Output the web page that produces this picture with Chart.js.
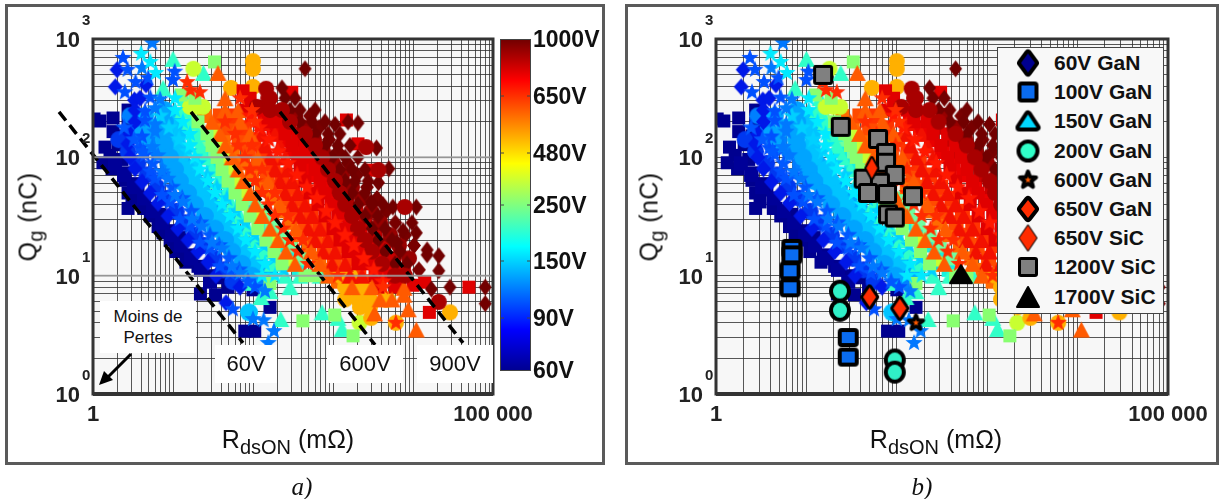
<!DOCTYPE html>
<html>
<head>
<meta charset="utf-8">
<title>Qg vs RdsON</title>
<script src="https://cdn.jsdelivr.net/npm/chart.js@4"></script>
<style>
  html, body { margin: 0; padding: 0; background: #fff; width: 1219px; height: 499px; overflow: hidden; }
  body { position: relative; font-family: "Liberation Sans", Arial, sans-serif; color: #111; }
  .frame { position: absolute; box-sizing: border-box; border: 3px solid #5a5a5a; }
  .holder { position: absolute; }
  .txt { position: absolute; white-space: nowrap; line-height: 1; }
  .xtitle { font-size: 25px; transform: translateX(-50%); }
  .xtitle sub, .ytitle sub { font-size: 20px; line-height: 0; }
  .ytitle { font-size: 25px; letter-spacing: 0.4px; transform: translate(-50%, -50%) rotate(-90deg); }
  .cap { font-family: "Liberation Serif", serif; font-style: italic; font-size: 25px; transform: translateX(-50%); }
  .cb { font-weight: bold; font-size: 23px; transform: translateY(-50%); }
  .box { position: absolute; background: #fff; text-align: center; font-size: 22px; display: flex; align-items: center; justify-content: center; }
  #legendB { position: absolute; left: 997px; top: 47px; width: 167px; height: 267px; box-sizing: border-box; background: #f8f8f8; border: 1px solid #444; z-index: 4; }
  #legendB canvas { position: absolute; transform: translate(-50%, -50%); }
  #legendB span { position: absolute; left: 56px; font-weight: bold; font-size: 21px; transform: translateY(-50%); white-space: nowrap; }
</style>
</head>
<body>
<div class="frame" style="left:5px;top:4px;width:600px;height:461px"></div>
<div class="frame" style="left:625px;top:4px;width:594px;height:461px"></div>
<div class="holder" style="left:6px;top:5px;width:598px;height:458px"><canvas id="chartA"></canvas></div>
<div class="holder" style="left:626px;top:5px;width:591px;height:458px"><canvas id="chartB"></canvas></div>

<div class="box" style="left:100px;top:301px;width:96px;height:52px;font-size:17px;line-height:21px">Moins de<br>Pertes</div>
<div class="box" style="left:215px;top:345px;width:62px;height:38px">60V</div>
<div class="box" style="left:327px;top:345px;width:76px;height:38px">600V</div>
<div class="box" style="left:417px;top:345px;width:76px;height:38px">900V</div>
<svg style="position:absolute;left:95px;top:350px" width="45" height="42">
  <line x1="36" y1="4" x2="10" y2="30" stroke="#000" stroke-width="3"/>
  <polygon points="4,35 9,21 18,30" fill="#000"/>
</svg>

<div class="txt xtitle" style="left:288px;top:427px">R<sub>dsON</sub> (mΩ)</div>
<div class="txt xtitle" style="left:936px;top:427px">R<sub>dsON</sub> (mΩ)</div>
<div class="txt ytitle" style="left:28px;top:217px">Q<sub>g</sub> (nC)</div>
<div class="txt ytitle" style="left:649px;top:217px">Q<sub>g</sub> (nC)</div>
<div class="txt cap" style="left:302px;top:474px">a)</div>
<div class="txt cap" style="left:922px;top:474px">b)</div>
<div id="cbLabels"></div>
<div id="legendB"></div>

<script>
// cloud of parts, [RdsON mOhm, Qg nC], one list per voltage colour and marker
const v40 = [[1.03,211],[1.22,203],[1.78,215],[2.74,251],[2.74,195],[1.78,165],[2.5,152],[1.41,122],[2.05,128],[1.63,104],[2.3,96],[1.33,90],[1.73,80],[2.5,74],[2.5,64],[3.35,60],[2.74,50],[3.65,53],[3.07,42],[4.6,37],[2.74,37],[4.3,37],[5.2,32],[6.9,33],[6.5,26],[9.2,24],[7.5,23],[9.2,20],[12.2,21],[10.9,16],[15.4,15],[14.5,13],[20.5,12],[29,10],[41,9.6],[48.7,8],[22,7],[34,6.9],[79,3.4],[105,3.4],[163,5.4],[100,7.6]];
const v45 = [[1.88,89],[2.44,71],[3.24,56],[4.33,45],[5.64,35],[7.33,28],[9.7,22],[12.5,18],[16.8,14],[22.3,11.2],[29,8.9]];
const v60 = [[2,550],[1.9,394],[3.3,305],[4.6,410],[46,5.9],[3.87,316],[3.35,251],[3.35,200],[2.9,158],[2.74,130],[2.9,100],[3.35,80],[4.1,62],[5.2,50],[6.5,41],[8.66,32],[11.5,25],[15.4,20],[20.5,16],[27.4,13],[34.5,10],[68.8,8]];
const v70 = [[2.1,141],[2.74,112],[3.64,89],[4.74,71],[6.3,56],[8.4,45],[11,35],[14.2,28],[18.9,22],[24.4,18],[32.6,14],[43,11.2],[56,8.9]];
const v80 = [[2.37,692],[2.7,550],[3.4,433],[2.5,355],[4.9,468],[56,5.2],[10,450],[10.5,530],[5.2,320],[4.47,245],[4.47,205],[4.1,150],[3.87,120],[4.47,105],[5.2,76],[5.96,66],[7.3,48],[9.2,42],[12.2,30],[16.3,26],[21.7,19],[29,17],[38.7,12],[51.6,10.5],[106,8]];
const v85 = [[2.45,178],[3.25,141],[4.22,112],[5.6,89],[7.3,71],[9.7,56],[13,45],[16.9,35],[22,28],[29,22],[37.6,18],[50,14],[67,11.2],[86.5,8.9]];
const v100 = [[5.5,927],[100,4.3],[136,4.2],[183,3.4],[155,2.7],[4.1,570],[6.9,310],[5.96,260],[5.96,190],[5.96,165],[5.5,122],[6.5,104],[7.3,76],[8.66,66],[10.6,48],[13.3,42],[17.3,30],[23,26],[30.7,19],[41,17],[54.7,12],[68.8,10.5],[141,7.4]];
const v110 = [[2.9,224],[3.76,178],[5,141],[6.49,112],[8.6,89],[11.2,71],[14.9,56],[19.9,45],[26,35],[33.7,28],[44.8,22],[57.8,18],[77,14],[103,11.2],[133,8.9]];
const v120 = [[7.9,251],[7.9,200],[4.1,155],[7.9,158],[4.47,126],[7.9,126],[9.2,100],[10.6,79],[12.2,63],[15.4,50],[18.8,40],[25,32],[33.5,25],[44.7,20],[54.7,16],[73,12.6],[97,10]];
const v125 = [[4.47,224],[5.8,178],[7.7,141],[10,112],[13.3,89],[17.3,71],[23,56],[30.7,45],[40,35],[52,28],[69,22],[89,18],[119,14],[158,11.2]];
const v130 = [[10.6,200],[11.5,158],[11.5,126],[12.2,100],[16.3,79],[18.8,63],[23,50],[27.4,40],[36.5,32],[48.7,25],[59.6,20],[79,16],[106,12.6],[89,4.9]];
const v140 = [[6.9,224],[8.9,178],[11.9,141],[15.4,112],[20.5,89],[26.6,71],[35.4,56],[47.3,45],[61.6,35],[80,28],[106,22],[137,18],[183,14],[243,11.2]];
const v150 = [[4,750],[5.2,640],[6.1,517],[10.6,316],[10.6,251],[13.3,200],[16.3,158],[16.3,126],[18.8,100],[21.7,79],[27.4,63],[33.5,50],[41,40],[51.6,32],[65,25],[81.6,20],[106,16],[141,12.6],[130,10],[188,10]];
const v170 = [[10.6,224],[13.7,178],[18.2,141],[23.7,112],[31.5,89],[41,71],[54.5,56],[72.8,45],[94.8,35],[123,28],[164,22],[211,18],[282,14],[374,11.2]];
const v200 = [[10,680],[24,517],[7.5,386],[222,4.3],[730,4.9],[1300,3.55],[1150,4.4],[14.1,316],[13.3,251],[16.3,200],[20.5,158],[21.7,126],[25,100],[30.7,79],[36.5,63],[44.7,50],[54.7,40],[68.8,32],[86.6,25],[109,20],[137,16],[173,12.6],[251,10],[387,10],[688,10],[163,7.4],[290,8],[89,8.7],[126,6.6]];
const v230 = [[15,224],[19.4,178],[25.8,141],[33.5,112],[44.6,89],[58,71],[77,56],[103,45],[134,35],[174,28],[231,22],[298,18],[399,14]];
const v250 = [[33,640],[12.6,337],[420,4.15],[1050,4.65],[1780,3.1],[163,8.6],[18.8,316],[20.5,200],[26.6,158],[30.7,126],[35.5,100],[41,79],[48.7,63],[59.6,50],[73,40],[92,32],[115,25],[145,20],[183,16],[230,12.6],[447,10],[596,10]];
const v300 = [[18,560],[2150,4],[16.3,267],[23.7,267],[20,267],[46,100],[59.6,63],[31.6,158],[36.5,126],[51.6,79],[75,50],[115,32],[173,20],[290,12.6],[4870,6.3]];
const v500 = [[100,650],[100,560],[53,386],[100,394],[3000,4.4],[6100,4],[29000,4.9],[1220,10],[1630,10],[1420,8],[1880,8],[2510,8],[1420,6.3],[2050,6.3],[2900,6.3],[4470,6.3],[2170,5.4],[2900,5.4]];
const v550 = [[25,224],[32.5,178],[43,141],[56,112],[74.5,89],[97,71],[129,56],[172,45],[224,35],[291,28],[386,22],[498,18],[666,14],[885,11.2],[1150,8.9]];
const v600 = [[36.5,517],[3300,4.8],[11000,3.5],[8700,5.2],[7700,6.9],[7700,7.9],[44.7,316],[44.7,251],[65,251],[30.7,200],[68.8,200],[38.7,158],[92,158],[44.7,126],[54.7,100],[115,100],[65,79],[75,63],[154,63],[92,50],[106,40],[217,40],[130,32],[163,25],[345,25],[205,20],[258,16],[531,16],[335,12.6],[688,12.6],[866,10],[1730,8],[3070,8],[3870,6.3],[5470,6.3]];
const v620 = [[39,224],[50,178],[67,141],[87,112],[116,89],[150,71],[200,56],[267,45],[348,35],[452,28],[600,22],[774,18],[1035,14],[1375,11.2],[1780,8.9]];
const v640 = [[59,224],[77,178],[102,141],[133,112],[177,89],[230,71],[306,56],[408,45],[532,35],[692,28],[918,22],[1180,18],[1580,14],[2100,11.2],[2730,8.9]];
const v650 = [[15,433],[16.5,370],[21.7,355],[6100,4],[68.8,316],[97,251],[44.7,200],[106,200],[59.6,158],[65,126],[97,126],[79,100],[92,79],[130,79],[106,63],[130,50],[188,50],[154,40],[188,32],[274,32],[237,25],[290,20],[422,20],[365,16],[487,12.6],[1150,10],[4220,8]];
const v680 = [[92,224],[119,178],[158,141],[205,112],[273,89],[355,71],[472,56],[629,45],[820,35],[1066,28],[1415,22],[1825,18],[2440,14],[3240,11.2],[4200,8.9]];
const v700 = [[130,195],[130,158],[188,158],[141,126],[217,126],[163,100],[251,100],[188,79],[274,79],[217,63],[307,63],[251,50],[365,50],[307,40],[447,40],[387,32],[548,32],[487,25],[688,25],[596,20],[866,20],[750,16],[1060,16],[973,12.6],[1420,12.6],[1630,10],[2300,10]];
const v750 = [[141,224],[183,178],[243,141],[316,112],[420,89],[547,71],[727,56],[970,45],[1264,35],[1643,28],[2180,22],[2812,18],[3760,14],[4990,11.2],[6480,8.9]];
const v800 = [[75,365],[305,355],[1470,207],[2050,130],[3200,78],[16000,4.9],[50000,8],[14000,8.8],[10000,8.3],[92,316],[79,251],[130,251],[154,200],[217,200],[251,158],[365,158],[307,126],[447,126],[365,100],[516,100],[387,79],[596,79],[447,63],[688,63],[516,50],[794,50],[649,40],[973,40],[794,32],[1150,32],[1000,25],[1420,25],[1220,20],[1730,20],[1540,16],[2170,16],[2050,12.6],[2900,12.6],[3350,10],[4470,10],[3650,8],[5960,8]];
const v850 = [[218,224],[282,178],[375,141],[487,112],[648,89],[842,71],[1120,56],[1495,45],[1948,35],[2532,28],[3360,22],[4334,18],[5795,14],[7690,11.2]];
const v900 = [[146,380],[112,267],[155,316],[2600,122],[3700,78],[7900,38],[21000,6],[163,316],[163,251],[230,251],[290,200],[447,158],[596,126],[730,100],[866,79],[1060,63],[1220,50],[1420,40],[1730,32],[2050,25],[2510,20],[3070,16],[4100,12.6],[5960,10],[7940,10]];
const v950 = [[335,224],[435,178],[578,141],[750,112],[998,89],[1298,71],[1725,56],[2300,45],[3000,35],[3900,28],[5175,22],[6675,18],[8925,14]];
const v1000 = [[447,560],[230,386],[1540,199],[2050,195],[3500,120],[5000,80],[3700,61],[3000,42],[4200,40],[5600,38],[11000,38],[9700,28],[11000,23],[7500,24],[6300,19],[15000,16.5],[17000,7.7],[29000,8],[80000,8],[80000,5.8],[21000,11],[21000,14.7],[15000,15],[251,316],[335,316],[290,251],[387,251],[596,251],[387,200],[548,200],[794,200],[1060,190],[596,158],[866,158],[1220,158],[794,126],[1150,126],[1630,126],[973,100],[1420,100],[2050,100],[1220,79],[1730,79],[2510,79],[1420,63],[1880,63],[2740,63],[1730,50],[2510,50],[2050,40],[3070,40],[2510,32],[3650,32],[3070,25],[4470,25],[3650,20],[5470,20],[4470,16],[6880,16],[5960,12.6],[8410,12.6]];
const v1010 = [[516,224],[670,178],[890,141],[1155,112],[1536,89],[1998,71],[2656,56],[3546,45],[4620,35],[6006,28],[7970,22],[10280,18],[11850,11.2]];

// highlighted parts of panel b
const gan100 = [[6.9,17],[6.9,15],[6.6,11],[6.6,7.9],[29,3],[29,2.05]];
const gan200 = [[23.5,7.4],[23.5,5.1],[95,1.94],[95,1.53]];
const gan600 = [[163,4]];
const gan650 = [[50,6.6],[108,5.3]];
const sic650 = [[53,81]];
const sic1200 = [[15.3,497],[24,181],[62,143],[76,109],[76,90],[43,66],[95,71],[65,61],[48,50],[78,49],[151,47],[80,33],[95,31]];
const sic1700 = [[513,10.3]];

// iso-voltage guide lines of panel a
const line60 = [[0.376,242],[75,2.7]];
const line600 = [[16.8,242],[3350,2.6]];
const line900 = [[217,242],[42200,2.7]];

const legendNames = ['60V GaN','100V GaN','150V GaN','200V GaN','600V GaN','650V GaN','650V SiC','1200V SiC','1700V SiC'];
const colorbarLabels = ['1000V','650V','480V','250V','150V','90V','60V'];
const colorbarY = [39,96,153,205,261,318,370];
const yTickValues = [1,10,100,1000];
const yExponents = ['0','1','2','3'];

// filled markers as small canvases, chart.js has no filled star of its own
function markerPath(ctx, shape, w, h) {
  ctx.beginPath();
  if (shape === 'square') {
    ctx.rect(-w/2, -h/2, w, h);
  } else if (shape === 'diamond') {
    ctx.moveTo(0,-h/2); ctx.lineTo(w/2,0); ctx.lineTo(0,h/2); ctx.lineTo(-w/2,0); ctx.closePath();
  } else if (shape === 'triangle') {
    ctx.moveTo(0,-h/2); ctx.lineTo(w/2,h/2); ctx.lineTo(-w/2,h/2); ctx.closePath();
  } else if (shape === 'circle') {
    ctx.ellipse(0,0,w/2,h/2,0,0,Math.PI*2);
  } else {
    for (var i = 0; i < 10; i++) {
      var r = i % 2 ? 0.42 : 1;
      var a = -Math.PI/2 + i*Math.PI/5;
      ctx.lineTo(Math.cos(a)*r*w/2, Math.sin(a)*r*h/2);
    }
    ctx.closePath();
  }
}

function marker(shape, w, h, fill, stroke, lw, innerScale) {
  var c = document.createElement('canvas');
  lw = lw || 0;
  c.width = w + lw*2 + 2;
  c.height = h + lw*2 + 2;
  var ctx = c.getContext('2d');
  ctx.translate(c.width/2, c.height/2);
  ctx.lineJoin = 'round';
  markerPath(ctx, shape, w, h);
  if (lw) {
    ctx.strokeStyle = stroke;
    ctx.lineWidth = lw*2;
    ctx.stroke();
  }
  if (innerScale) {
    ctx.fillStyle = stroke;
    ctx.fill();
    markerPath(ctx, shape, w*innerScale, h*innerScale);
  }
  ctx.fillStyle = fill;
  ctx.fill();
  return c;
}

const cloud = [
  {pts: v1010, color:'#780000', shape:'diamond', w:14, h:17, order:7},
  {pts: v1000, color:'#720000', shape:'diamond', w:13, h:17, order:6},
  {pts: v950,  color:'#980000', shape:'circle',  w:16, h:16, order:6},
  {pts: v900,  color:'#a80000', shape:'circle',  w:16, h:16, order:5},
  {pts: v850,  color:'#c80000', shape:'square',  w:14, h:14, order:7},
  {pts: v800,  color:'#e00000', shape:'square',  w:13, h:13, order:6},
  {pts: v750,  color:'#ea0000', shape:'square',  w:15, h:15, order:7},
  {pts: v700,  color:'#f21000', shape:'triangle',w:17, h:16, order:6},
  {pts: v680,  color:'#ff1800', shape:'star',    w:19, h:19, order:4},
  {pts: v650,  color:'#ff2c00', shape:'star',    w:18, h:18, order:3},
  {pts: v640,  color:'#ff3400', shape:'square',  w:15, h:15, order:7},
  {pts: v620,  color:'#ff4a00', shape:'square',  w:15, h:15, order:7},
  {pts: v600,  color:'#ff5a00', shape:'triangle',w:17, h:16, order:5},
  {pts: v550,  color:'#ff6a00', shape:'square',  w:14, h:14, order:7},
  {pts: v500,  color:'#ffb000', shape:'circle',  w:16, h:16, order:6},
  {pts: v300,  color:'#c8ff30', shape:'circle',  w:16, h:16, order:6},
  {pts: v250,  color:'#88ff70', shape:'square',  w:13, h:13, order:5},
  {pts: v230,  color:'#70ffa0', shape:'square',  w:14, h:14, order:7},
  {pts: v200,  color:'#30ffc8', shape:'triangle',w:17, h:16, order:6},
  {pts: v170,  color:'#18f0e0', shape:'square',  w:14, h:14, order:7},
  {pts: v150,  color:'#00eaff', shape:'star',    w:18, h:18, order:3},
  {pts: v140,  color:'#00d0ff', shape:'star',    w:19, h:19, order:5},
  {pts: v130,  color:'#00c4ff', shape:'circle',  w:18, h:18, order:6},
  {pts: v125,  color:'#00a8ff', shape:'circle',  w:18, h:18, order:7},
  {pts: v120,  color:'#00a4ff', shape:'circle',  w:18, h:18, order:5},
  {pts: v110,  color:'#0080ff', shape:'circle',  w:17, h:17, order:7},
  {pts: v100,  color:'#0078ff', shape:'star',    w:18, h:18, order:3},
  {pts: v85,   color:'#0058ff', shape:'star',    w:19, h:19, order:4},
  {pts: v80,   color:'#0050ff', shape:'star',    w:18, h:18, order:4},
  {pts: v70,   color:'#0038f0', shape:'circle',  w:17, h:17, order:7},
  {pts: v60,   color:'#0018e8', shape:'diamond', w:15, h:17, order:5},
  {pts: v45,   color:'#000098', shape:'square',  w:14, h:14, order:8},
  {pts: v40,   color:'#00008f', shape:'square',  w:13, h:13, order:8}
];

const highlights = [
  {pts: sic650, icon: marker('diamond',11,20,'#ff2c00','#000',2)},
  {pts: gan100, icon: marker('square',13,11,'#0a6cf0','#000',4)},
  {pts: gan200, icon: marker('circle',14,15,'#30f0c8','#000',4)},
  {pts: gan600, icon: marker('star',15,15,'#ff5a00','#000',2,0.45)},
  {pts: gan650, icon: marker('diamond',13,19,'#ff2c00','#000',3)},
  {pts: sic1200, icon: marker('square',14,14,'#808080','#000',3)},
  {pts: sic1700, icon: marker('triangle',22,18,'#000','#000',1)}
];

function toXY(pts) {
  return pts.map(function (p) { return {x: p[0], y: p[1]}; });
}

function cloudDatasets() {
  return cloud.map(function (c) {
    return {
      data: toXY(c.pts),
      pointStyle: marker(c.shape, c.w, c.h, c.color),
      pointRadius: 6,
      showLine: false,
      order: c.order
    };
  });
}

function guide(pts) {
  return {data: toXY(pts), showLine: true, pointRadius: 0, borderColor: '#000', borderWidth: 3.5, borderDash: [11,6], clip: false, order: 1};
}

function decadeTicks(maxDecades) {
  var t = [];
  for (var d = 0; d < maxDecades; d++) {
    for (var m = 1; m < 10; m++) t.push(m * Math.pow(10, d));
  }
  t.push(Math.pow(10, maxDecades));
  return t;
}

// plot background, plot edges, the y labels with their exponents
const panelPlugin = {
  id: 'panelPlugin',
  beforeDraw: function (chart) {
    var a = chart.chartArea, ctx = chart.ctx;
    ctx.save();
    ctx.fillStyle = '#f7f7f7';
    ctx.fillRect(a.left, a.top, a.right - a.left, a.bottom - a.top);
    ctx.restore();
  },
  afterDatasetsDraw: function (chart, args, opts) {
    var a = chart.chartArea, ctx = chart.ctx, y = chart.scales.y;
    ctx.save();
    if (opts.fadedLines) {
      ctx.strokeStyle = 'rgba(160,160,160,0.85)';
      ctx.lineWidth = 2;
      [10,100].forEach(function (v) {
        ctx.beginPath();
        ctx.moveTo(a.left, y.getPixelForValue(v));
        ctx.lineTo(a.right, y.getPixelForValue(v));
        ctx.stroke();
      });
    }
    ctx.strokeStyle = '#333';
    ctx.lineWidth = 3;
    ctx.strokeRect(a.left, a.top, a.right - a.left, a.bottom - a.top);
    ctx.lineWidth = 4;
    ctx.beginPath();
    ctx.moveTo(a.left, a.bottom);
    ctx.lineTo(a.right, a.bottom);
    ctx.stroke();
    ctx.fillStyle = '#222';
    yTickValues.forEach(function (v, i) {
      var py = y.getPixelForValue(v);
      ctx.font = 'bold 22px "Liberation Sans"';
      ctx.textAlign = 'right';
      ctx.fillText('10', a.left - 13, py + 8);
      ctx.font = 'bold 15px "Liberation Sans"';
      ctx.textAlign = 'left';
      ctx.fillText(yExponents[i], a.left - 11, py - 14);
    });
    ctx.restore();
  }
};

// jet colour bar next to panel a
const colorbarPlugin = {
  id: 'colorbarPlugin',
  afterDraw: function (chart) {
    var ctx = chart.ctx;
    var x0 = 500 - 6, y0 = 39 - 5, w = 31, h = 332;
    var g = ctx.createLinearGradient(0, y0 + h, 0, y0);
    g.addColorStop(0, '#00008f');
    g.addColorStop(0.125, '#0000ff');
    g.addColorStop(0.375, '#00ffff');
    g.addColorStop(0.625, '#ffff00');
    g.addColorStop(0.875, '#ff0000');
    g.addColorStop(1, '#700000');
    ctx.save();
    ctx.fillStyle = g;
    ctx.fillRect(x0, y0, w, h);
    ctx.strokeStyle = '#444';
    ctx.lineWidth = 1;
    ctx.strokeRect(x0 + 0.5, y0 + 0.5, w - 1, h - 1);
    colorbarY.slice(1, -1).forEach(function (py) {
      ctx.beginPath();
      ctx.moveTo(x0, py - 5); ctx.lineTo(x0 + 4, py - 5);
      ctx.moveTo(x0 + w - 4, py - 5); ctx.lineTo(x0 + w, py - 5);
      ctx.stroke();
    });
    ctx.restore();
  }
};

function makeChart(id, datasets, rightPad, yWidth, fadedLines, extra) {
  var el = document.getElementById(id);
  return new Chart(el.getContext('2d'), {
    type: 'scatter',
    data: {datasets: datasets},
    plugins: [panelPlugin].concat(extra),
    options: {
      responsive: true,
      maintainAspectRatio: false,
      animation: false,
      events: [],
      layout: {padding: {left: 0, top: 34, right: rightPad, bottom: 0}},
      plugins: {legend: {display: false}, tooltip: {enabled: false}, panelPlugin: {fadedLines: fadedLines}},
      scales: {
        x: {
          type: 'logarithmic', min: 1, max: 100000,
          afterBuildTicks: function (s) { s.ticks = decadeTicks(5).map(function (v) { return {value: v}; }); },
          afterFit: function (s) { s.height = 69; },
          grid: {color: 'rgba(45,45,45,0.8)', lineWidth: 1, drawTicks: false},
          border: {display: false},
          ticks: {
            autoSkip: false, maxRotation: 0, padding: 8, color: '#222',
            font: {family: 'Liberation Sans', weight: 'bold', size: 22},
            callback: function (v) { return v === 1 ? '1' : (v === 100000 ? '100 000' : ''); }
          }
        },
        y: {
          type: 'logarithmic', min: 1, max: 1000,
          afterBuildTicks: function (s) { s.ticks = decadeTicks(3).map(function (v) { return {value: v}; }); },
          afterFit: function (s) { s.width = yWidth; },
          grid: {color: 'rgba(45,45,45,0.8)', lineWidth: 1, drawTicks: false},
          border: {display: false},
          ticks: {display: false, autoSkip: false}
        }
      }
    }
  });
}

document.addEventListener('DOMContentLoaded', function () {
  var dsA = cloudDatasets().concat([guide(line60), guide(line600), guide(line900)]);
  makeChart('chartA', dsA, 111, 87, true, [colorbarPlugin]);

  var dsB = cloudDatasets().concat(highlights.map(function (h) {
    return {data: toXY(h.pts), pointStyle: h.icon, pointRadius: 8, showLine: false, order: 0};
  }));
  makeChart('chartB', dsB, 49, 90, false, []);

  // colour bar labels
  var cb = document.getElementById('cbLabels');
  colorbarLabels.forEach(function (t, i) {
    var s = document.createElement('div');
    s.className = 'txt cb';
    s.style.left = '533px';
    s.style.top = colorbarY[i] + 'px';
    s.textContent = t;
    cb.appendChild(s);
  });

  // legend of panel b
  var icons = [
    marker('diamond',14,19,'#00008f','#000',4),
    marker('square',13,13,'#0a6cf0','#000',4),
    marker('triangle',17,13,'#00d8ff','#000',4),
    marker('circle',15,15,'#30ffc8','#000',4),
    marker('star',17,17,'#ff5a00','#000',2,0.4),
    marker('diamond',14,18,'#ff2c00','#000',4),
    marker('diamond',17,25,'#ff2c00','#000',1),
    marker('square',14,14,'#808080','#000',3),
    marker('triangle',22,20,'#000','#000',1)
  ];
  var lg = document.getElementById('legendB');
  legendNames.forEach(function (name, i) {
    var cy = 15 + i*29.2;
    icons[i].style.left = '30px';
    icons[i].style.top = cy + 'px';
    lg.appendChild(icons[i]);
    var s = document.createElement('span');
    s.style.top = cy + 'px';
    s.textContent = name;
    lg.appendChild(s);
  });
});
</script>
</body>
</html>
